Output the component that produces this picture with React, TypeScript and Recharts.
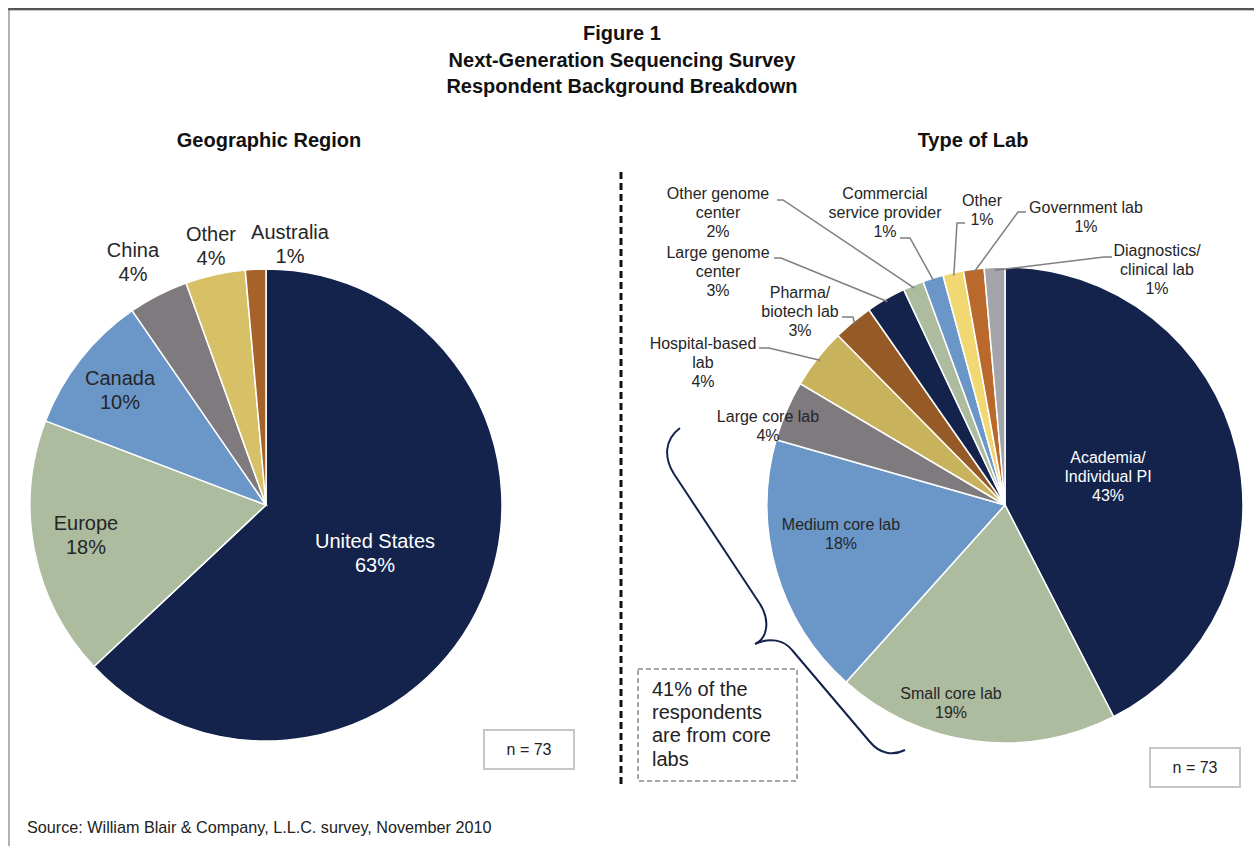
import React from 'react';
import { PieChart, Pie, Cell } from 'recharts';

// ---- data ----
const regions = ['United States', 'Europe', 'Canada', 'China', 'Other', 'Australia'];
const regionShare = [63.0, 17.8, 9.6, 4.1, 4.1, 1.4];
const regionPct = ['63%', '18%', '10%', '4%', '4%', '1%'];

const labTypes = [
  'Academia/\nIndividual PI',
  'Small core lab',
  'Medium core lab',
  'Large core lab',
  'Hospital-based\nlab',
  'Pharma/\nbiotech lab',
  'Large genome\ncenter',
  'Other genome\ncenter',
  'Commercial\nservice provider',
  'Other',
  'Government lab',
  'Diagnostics/\nclinical lab',
];
const labShare = [42.5, 19.2, 17.8, 4.1, 4.1, 2.7, 2.7, 1.4, 1.4, 1.4, 1.4, 1.4];
const labPct = ['43%', '19%', '18%', '4%', '4%', '3%', '3%', '2%', '1%', '1%', '1%', '1%'];

const sampleSize = 'n = 73';

// ---- styling / layout ----
const FONT = '"Liberation Sans", Arial, Helvetica, sans-serif';
const NAVY = '#13234b';
const SAGE = '#adbb9f';
const BLUE = '#6b96c8';

const regionColors = [NAVY, SAGE, BLUE, '#7f7a7e', '#d8c067', '#a5632a'];
const labColors = [
  NAVY, SAGE, BLUE, '#7f7a7e', '#c8b25c', '#955a25',
  NAVY, SAGE, BLUE, '#f2d873', '#b9692b', '#a4a5aa',
];

const GEO = { cx: 266, cy: 505, r: 236 };
const LAB = { cx: 1005, cy: 505, r: 238 };

// label centre offsets (first line) from pie centre
const geoLabelPos: [number, number][] = [
  [109, 36], [-180, 18], [-146, -127], [-133, -255], [-55, -271], [24, -273],
];
const labLabelPos: [number, number][] = [
  [103, -48], [-54, 188], [-164, 19], [-237, -89], [-302, -162], [-205, -213],
  [-287, -253], [-287, -312], [-120, -312], [-23, -305], [81, -298], [152, -255],
];
// leader line start + elbow, offsets from pie centre
const labLeaders: ([number, number][] | null)[] = [
  null, null, null, null,
  [[-246, -157], [-236, -157]],
  [[-163, -188], [-152, -188]],
  [[-231, -247], [-224, -247]],
  [[-228, -305], [-222, -305]],
  [[-105, -267], [-95, -267]],
  [[-40, -282], [-48, -282]],
  [[21, -293], [13, -293]],
  [[107, -248], [99, -248]],
];

const RAD = Math.PI / 180;

const multiLine = (x: number, y: number, lines: string[], size: number, lh: number, fill: string) => (
  <text x={x} y={y + size * 0.35} textAnchor="middle" fontSize={size} fill={fill} fontFamily={FONT}>
    {lines.map((l, i) => (
      <tspan key={i} x={x} dy={i === 0 ? 0 : lh}>{l}</tspan>
    ))}
  </text>
);

const renderGeoLabel = (p: any) => {
  const i = p.index;
  const [dx, dy] = geoLabelPos[i];
  const lines = [...regions[i].split('\n'), regionPct[i]];
  return (
    <g key={`g-${i}`}>
      {multiLine(GEO.cx + dx, GEO.cy + dy, lines, 20, 24, i === 0 ? '#ffffff' : '#262626')}
    </g>
  );
};

const renderLabLabel = (p: any) => {
  const i = p.index;
  const [dx, dy] = labLabelPos[i];
  const lines = [...labTypes[i].split('\n'), labPct[i]];
  const leader = labLeaders[i];
  let path = null;
  if (leader) {
    const ex = LAB.cx + (LAB.r - 3) * Math.cos(-p.midAngle * RAD);
    const ey = LAB.cy + (LAB.r - 3) * Math.sin(-p.midAngle * RAD);
    const pts = leader.map(([x, y]) => `${LAB.cx + x},${LAB.cy + y}`).join(' ');
    path = <polyline points={`${pts} ${ex},${ey}`} fill="none" stroke="#7f7f7f" strokeWidth={1.5} />;
  }
  return (
    <g key={`l-${i}`}>
      {path}
      {multiLine(LAB.cx + dx, LAB.cy + dy, lines, 16, 19, i === 0 ? '#ffffff' : '#262626')}
    </g>
  );
};

const geoData = regions.map((name, i) => ({ name, value: regionShare[i] }));
const labData = labTypes.map((name, i) => ({ name, value: labShare[i] }));

export default function App() {
  return (
    <div style={{ position: 'absolute', left: 0, top: 0, width: 1254, height: 846, background: '#fff', fontFamily: FONT }}>
      <div style={{ position: 'absolute', left: 0, top: 0 }}>
        <PieChart width={1254} height={846} margin={{ top: 0, right: 0, bottom: 0, left: 0 }}>
          <Pie
            data={geoData}
            dataKey="value"
            cx={GEO.cx}
            cy={GEO.cy}
            outerRadius={GEO.r}
            startAngle={90}
            endAngle={-270}
            stroke="#ffffff"
            strokeWidth={1.5}
            label={renderGeoLabel}
            labelLine={false}
            isAnimationActive={false}
          >
            {geoData.map((_, i) => <Cell key={i} fill={regionColors[i]} />)}
          </Pie>
          <Pie
            data={labData}
            dataKey="value"
            cx={LAB.cx}
            cy={LAB.cy}
            outerRadius={LAB.r}
            startAngle={90}
            endAngle={-270}
            stroke="#ffffff"
            strokeWidth={1.5}
            label={renderLabLabel}
            labelLine={false}
            isAnimationActive={false}
          >
            {labData.map((_, i) => <Cell key={i} fill={labColors[i]} />)}
          </Pie>
        </PieChart>
      </div>
      <svg width={1254} height={846} style={{ position: 'absolute', left: 0, top: 0, pointerEvents: 'none' }} fontFamily={FONT}>
        {/* frame */}
        <line x1={8} y1={9} x2={1254} y2={9} stroke="#555" strokeWidth={2} />
        <line x1={8} y1={10.5} x2={1254} y2={10.5} stroke="#c8c8c8" strokeWidth={1} />
        <line x1={9} y1={8} x2={9} y2={846} stroke="#666" strokeWidth={1} />

        {/* titles */}
        <text x={622} y={33} textAnchor="middle" dominantBaseline="central" fontSize={20} fontWeight="bold" fill="#111">Figure 1</text>
        <text x={622} y={60} textAnchor="middle" dominantBaseline="central" fontSize={20} fontWeight="bold" fill="#111">Next-Generation Sequencing Survey</text>
        <text x={622} y={86} textAnchor="middle" dominantBaseline="central" fontSize={20} fontWeight="bold" fill="#111">Respondent Background Breakdown</text>
        <text x={269} y={140} textAnchor="middle" dominantBaseline="central" fontSize={20} fontWeight="bold" fill="#111">Geographic Region</text>
        <text x={973} y={140} textAnchor="middle" dominantBaseline="central" fontSize={20} fontWeight="bold" fill="#111">Type of Lab</text>

        {/* divider */}
        <line x1={621} y1={172} x2={621} y2={786} stroke="#111" strokeWidth={3} strokeDasharray="7 4" />

        {/* n boxes */}
        <rect x={484} y={730} width={90} height={39} fill="#fff" stroke="#c6c6c6" strokeWidth={2} />
        <text x={529} y={749.5} textAnchor="middle" dominantBaseline="central" fontSize={16} fill="#222">{sampleSize}</text>
        <rect x={1150} y={748} width={90} height={39} fill="#fff" stroke="#c6c6c6" strokeWidth={2} />
        <text x={1195} y={767.5} textAnchor="middle" dominantBaseline="central" fontSize={16} fill="#222">{sampleSize}</text>

        {/* core lab brace */}
        <path
          d="M680,428 C664,440 664,458 674,474 L760,604 C770,620 768,638 755,644 C770,637 784,640 792,650 L870,742 C880,754 893,756 905,750"
          fill="none"
          stroke={NAVY}
          strokeWidth={2}
        />
        <rect x={638} y={669} width={159} height={112} fill="#fff" stroke="#8a8a8a" strokeWidth={1.5} strokeDasharray="5 3" />
        {['41% of the', 'respondents', 'are from core', 'labs'].map((t, i) => (
          <text key={i} x={652} y={689 + i * 23.2} dominantBaseline="central" fontSize={20} fill="#222">{t}</text>
        ))}

        {/* source */}
        <text x={27} y={827} dominantBaseline="central" fontSize={16.2} fill="#222">Source: William Blair &amp; Company, L.L.C. survey, November 2010</text>
      </svg>
    </div>
  );
}
